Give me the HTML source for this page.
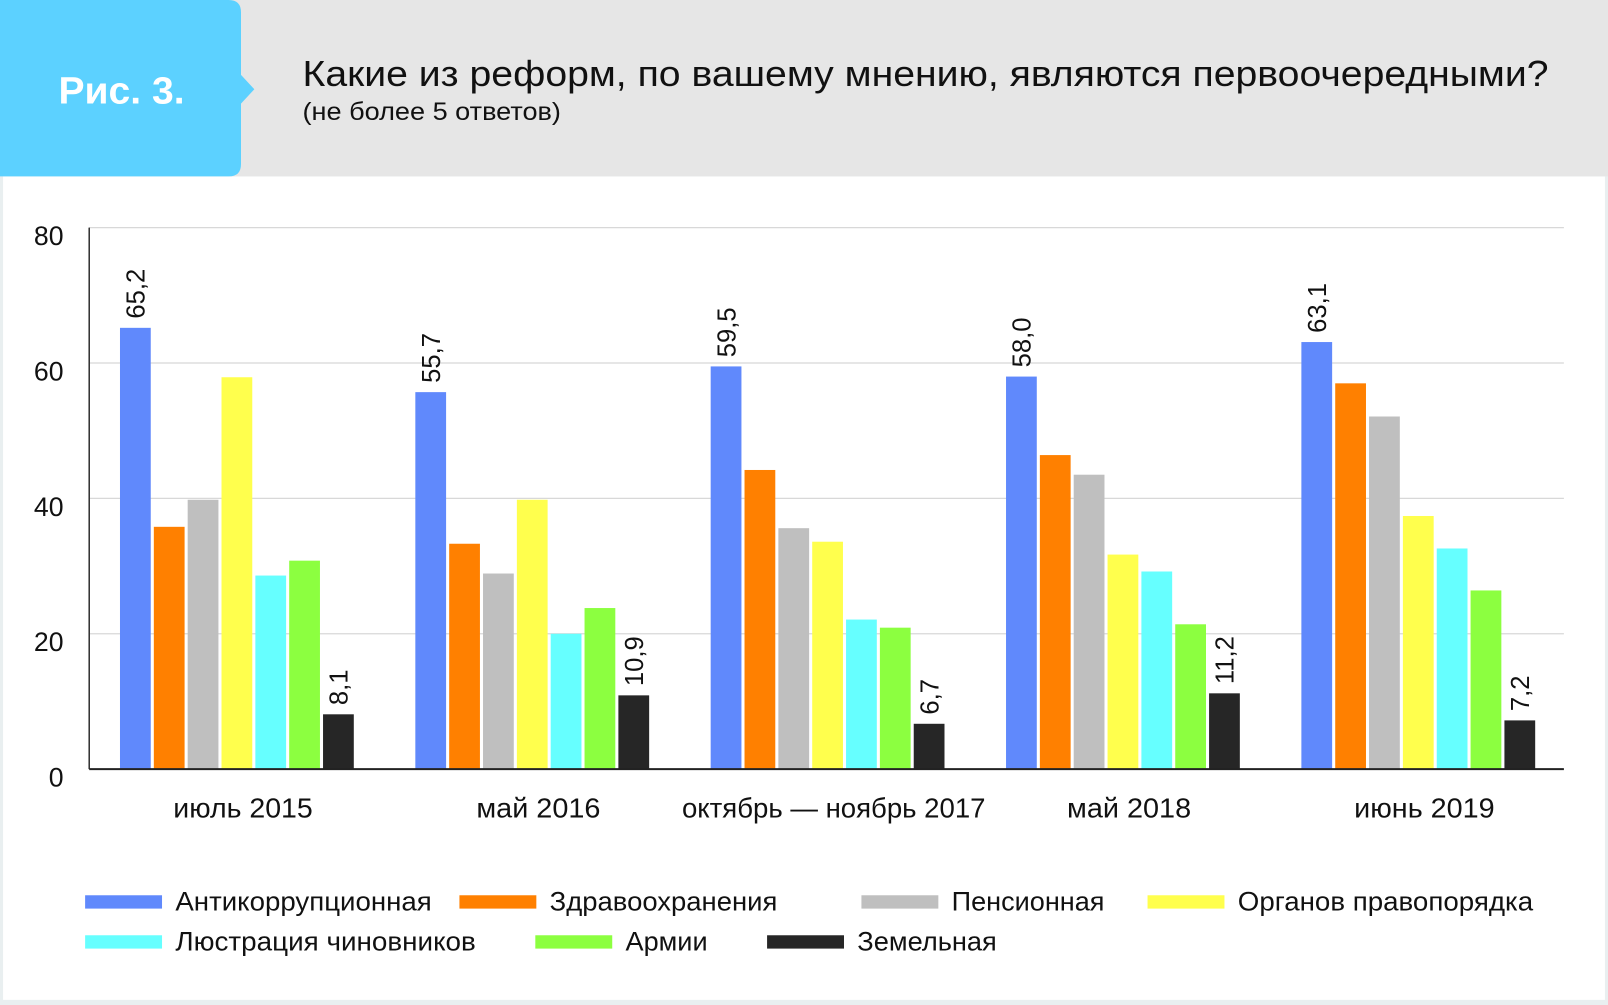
<!DOCTYPE html>
<html><head><meta charset="utf-8"><style>
html,body{margin:0;padding:0;background:#fff;}
svg{display:block;font-family:"Liberation Sans",sans-serif;}
</style></head><body>
<svg id="chart" width="1608" height="1005" viewBox="0 0 1568 980" preserveAspectRatio="none" xmlns="http://www.w3.org/2000/svg">
<rect x="0" y="0" width="1568" height="980" fill="#e9eff0"/>
<rect x="3" y="172" width="1562" height="803" fill="#fff"/>
<rect x="0" y="0" width="1568" height="172" fill="#e6e6e6"/>
<path d="M0 0 H223 Q235 0 235 12 V73 L248 87 L235 101 V160 Q235 172 223 172 H0 Z" fill="#5cd1ff"/>
<text x="57" y="101" font-size="37" font-weight="bold" fill="#fff" textLength="123" lengthAdjust="spacingAndGlyphs">Рис. 3.</text>
<text x="295" y="84" font-size="35" fill="#111" textLength="1215" lengthAdjust="spacingAndGlyphs">Какие из реформ, по вашему мнению, являются первоочередными?</text>
<text x="295" y="117" font-size="24" fill="#111" textLength="252" lengthAdjust="spacingAndGlyphs">(не более 5 ответов)</text>
<g id="plot"></g>
</svg>
<script>
const categories = ["июль 2015","май 2016","октябрь — ноябрь 2017","май 2018","июнь 2019"];
const categoryLabelWidths = [136,121,296,121,137];
const seriesNames = ["Антикоррупционная","Здравоохранения","Пенсионная","Органов правопорядка","Люстрация чиновников","Армии","Земельная"];
const anticorruption = [65.2,55.7,59.5,58.0,63.1];
const healthcare = [35.8,33.3,44.2,46.4,57.0];
const pension = [39.8,28.9,35.6,43.5,52.1];
const lawEnforcement = [57.9,39.8,33.6,31.7,37.4];
const lustration = [28.6,20.0,22.1,29.2,32.6];
const army = [30.8,23.8,20.9,21.4,26.4];
const land = [8.1,10.9,6.7,11.2,7.2];
const yTicks = [0,20,40,60,80];
const yTickLabels = ["0","20","40","60","80"];

const series = [anticorruption,healthcare,pension,lawEnforcement,lustration,army,land];
const colors = ["#6089fc","#ff8000","#bfbfbf","#ffff4d","#66ffff","#8cff40","#262626"];
const labeled = [true,false,false,false,false,false,true];
const NS = "http://www.w3.org/2000/svg";
const g = document.getElementById('plot');
const X0 = 87, X1 = 1525, Y0 = 750, Y80 = 222;
function y(v){ return Y0 - (v/80)*(Y0-Y80); }
function groupX(i){ return 117 + i*288; }
function barX(i,s){ return groupX(i) + s*33; }
const BW = 30;
function mk(tag, attrs){ const e=document.createElementNS(NS,tag); for(const k in attrs) e.setAttribute(k,attrs[k]); g.appendChild(e); return e; }
function fmt(v){ return v.toFixed(1).replace('.',','); }

yTicks.forEach((t,i)=>{
  if(t>0){
    const l = mk('line',{x1:X0,x2:X1,y1:y(t),y2:y(t),stroke:'#d8d8d8','stroke-width':1.2});
    
    
  }
  const tx = mk('text',{x:62,y:y(t)+17,'font-size':26,'text-anchor':'end',fill:'#111'});
  tx.textContent = yTickLabels[i];
  
  
});

categories.forEach((c,i)=>{
  series.forEach((arr,s)=>{
    const r = mk('rect',{x:barX(i,s),y:y(arr[i]),width:BW,height:Y0-y(arr[i]),fill:colors[s]});
    
    
    if(labeled[s]){
      const cx = barX(i,s)+BW/2+9, cy = y(arr[i])-9;
      const t = mk('text',{x:cx,y:cy,'font-size':25,fill:'#111',transform:'rotate(-90 '+cx+' '+cy+')'});
      t.textContent = fmt(arr[i]);
      
      
    }
  });
  const cx = groupX(i) + 120;
  const t = mk('text',{x:cx,y:797,'font-size':27,'text-anchor':'middle',fill:'#111',textLength:categoryLabelWidths[i],lengthAdjust:'spacingAndGlyphs'});
  t.textContent = c;
  
  
});

const ax = mk('line',{x1:X0,x2:X0,y1:Y80,y2:Y0,stroke:'#333','stroke-width':1.5});


const bx = mk('line',{x1:X0,x2:X1,y1:Y0,y2:Y0,stroke:'#222','stroke-width':2});



const legendSw = [[83,879],[448,879],[840,879],[1119,879],[83,918],[522,918],[748,918]];
const legendW = [250,222,149,288,293,80,136];
seriesNames.forEach((n,s)=>{
  const [lx,ly] = legendSw[s];
  const r = mk('rect',{x:lx,y:ly-6,width:75,height:13,fill:colors[s]});
  
  
  const t = mk('text',{x:lx+88,y:ly+9,'font-size':26,fill:'#111',textLength:legendW[s],lengthAdjust:'spacingAndGlyphs'});
  t.textContent = n;
  
  
});
</script>
</body></html>
